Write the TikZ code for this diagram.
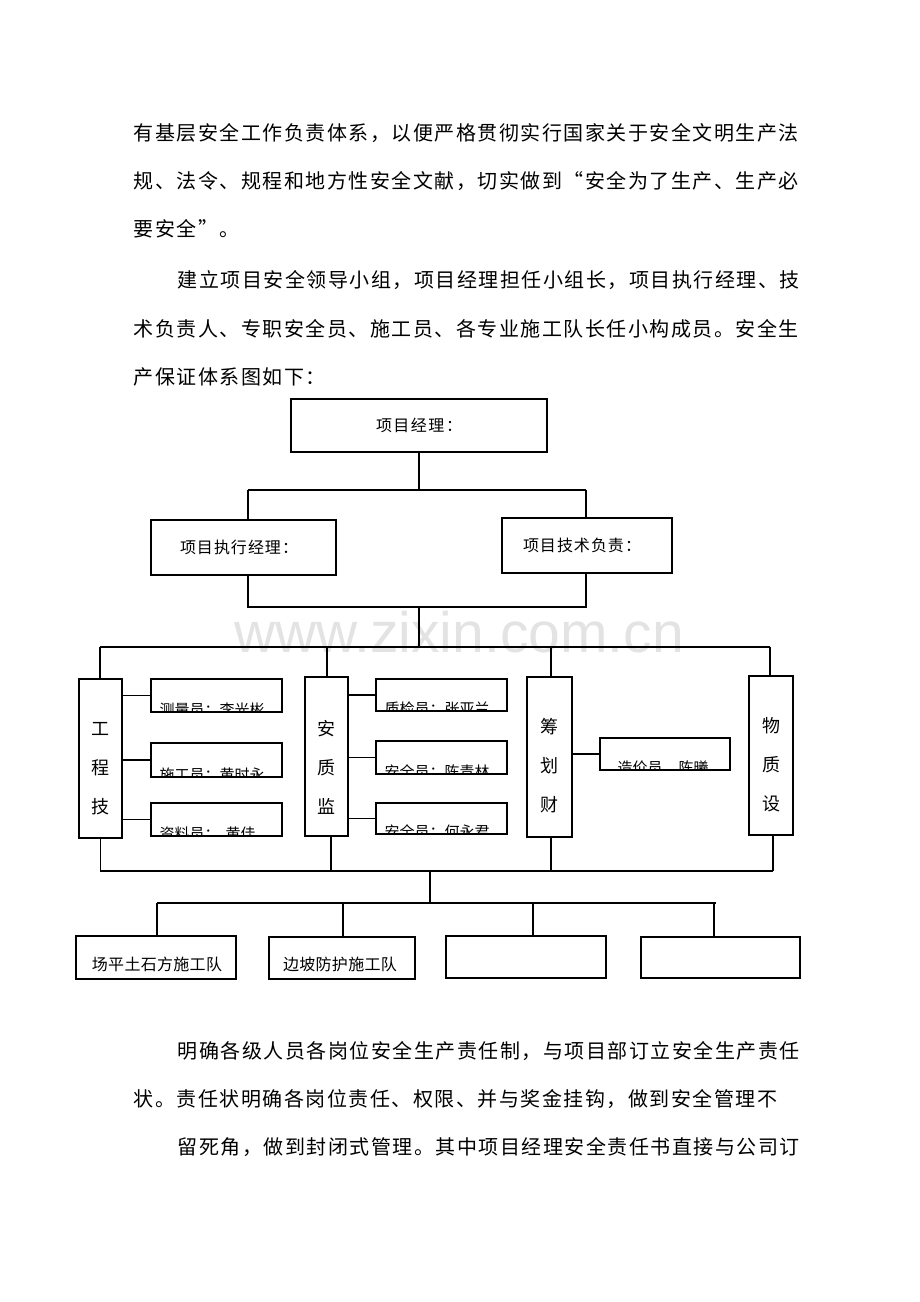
\documentclass[tikz,border=0pt]{standalone}
\usepackage{fontspec}
\setmainfont{Noto Sans CJK SC}
\newfontfamily\wmfont{Liberation Sans}
\ExplSyntaxOn
\NewDocumentCommand\cjkgrid{mm}{\tl_map_inline:nn{#2}{\makebox[#1]{##1}}}
\ExplSyntaxOff
\tikzset{
  body/.style={anchor=west, inner sep=0pt, font=\fontsize{20}{20}\selectfont},
  box/.style={draw, line width=1.2pt, inner sep=0pt},
  lab/.style={inner sep=0pt, font=\fontsize{16}{16}\selectfont},
  small/.style={anchor=west, inner sep=0pt, font=\fontsize{15}{15}\selectfont},
  vt/.style={inner sep=0pt, align=center, font=\fontsize{18}{39}\selectfont},
  conn/.style={line width=1.25pt},
}
\begin{document}
\begin{tikzpicture}[x=1pt,y=-1pt]
\useasboundingbox (0,0) rectangle (920,1302);
% watermark
\node[inner sep=0pt, text=black!11, font=\wmfont\fontsize{57}{57}\selectfont] (wm) at (459,632) {www.zixin.com.cn};
% body text
\node[body] (t1) at (133,133) {\cjkgrid{21.5pt}{有基层安全工作负责体系，以便严格贯彻实行国家关于安全文明生产法}};
\node[body] (t2) at (133,181) {\cjkgrid{21.5pt}{规、法令、规程和地方性安全文献，切实做到“安全为了生产、生产必}};
\node[body] (t3) at (133,229) {\cjkgrid{21.5pt}{要安全”。}};
\node[body] (t4) at (177,280) {\cjkgrid{21.5pt}{建立项目安全领导小组，项目经理担任小组长，项目执行经理、技}};
\node[body] (t5) at (133,329) {\cjkgrid{21.5pt}{术负责人、专职安全员、施工员、各专业施工队长任小构成员。安全生}};
\node[body] (t6) at (133,377) {\cjkgrid{21.5pt}{产保证体系图如下：}};
\node[body] (t7) at (177,1051) {\cjkgrid{21.5pt}{明确各级人员各岗位安全生产责任制，与项目部订立安全生产责任}};
\node[body] (t8) at (133,1099) {\cjkgrid{21.5pt}{状。责任状明确各岗位责任、权限、并与奖金挂钩，做到安全管理不}};
\node[body] (t9) at (177,1147) {\cjkgrid{21.5pt}{留死角，做到封闭式管理。其中项目经理安全责任书直接与公司订}};

% top levels
\node[box, minimum width=256pt, minimum height=53pt] (pm) at (419,425.5) {};
\node[lab] (pmt) at (419,425) {\cjkgrid{17.5pt}{项目经理：}};
\node[box, minimum width=185pt, minimum height=55pt] (ex) at (243.5,547.5) {};
\node[lab] (ext) at (239,547) {\cjkgrid{17pt}{项目执行经理：}};
\node[box, minimum width=170pt, minimum height=55pt] (te) at (587,545.5) {};
\node[lab] (tet) at (582,545) {\cjkgrid{17pt}{项目技术负责：}};

\coordinate (jT) at (419,490);
\coordinate (jL) at (248,490);
\coordinate (jR) at (586,490);
\draw[conn] (pm.south) -- (jT);
\draw[conn] (jL) -- (jR);
\draw[conn] (jL) -- (jL |- ex.north);
\draw[conn] (jR) -- (jR |- te.north);
\coordinate (kL) at (248,607);
\coordinate (kR) at (586,607);
\coordinate (kM) at (419,607);
\coordinate (mM) at (419,647);
\draw[conn] (jL |- ex.south) -- (kL) -- (kR) -- (jR |- te.south);
\draw[conn] (kM) -- (mM);

% department boxes
\node[box, minimum width=43pt, minimum height=159pt] (gc) at (100.5,758.5) {};
\node[vt] (gct) at (100.5,769) {工\\程\\技};
\node[box, minimum width=43pt, minimum height=159pt] (aq) at (326.5,756.5) {};
\node[vt] (aqt) at (326.5,767) {安\\质\\监};
\node[box, minimum width=45pt, minimum height=160pt] (cc) at (549.5,757) {};
\node[vt] (cct) at (549.5,766) {筹\\划\\财};
\node[box, minimum width=44pt, minimum height=159pt] (wz) at (771,755.5) {};
\node[vt] (wzt) at (771,765) {物\\质\\设};

\coordinate (mL) at (100,647);
\coordinate (mR) at (770,647);
\draw[conn] (mL) -- (mR);
\draw[conn] (mL) -- (mL |- gc.north);
\draw[conn] (327,647) -- (327,647 |- aq.north);
\draw[conn] (551,647) -- (551,647 |- cc.north);
\draw[conn] (mR) -- (mR |- wz.north);

% sub boxes
\node[box, minimum width=131pt, minimum height=33pt] (s1) at (216.5,695.5) {};
\node[box, minimum width=131pt, minimum height=34pt] (s2) at (216.5,760) {};
\node[box, minimum width=131pt, minimum height=33pt] (s3) at (216.5,819.5) {};
\node[box, minimum width=131pt, minimum height=32pt] (q1) at (441.5,695) {};
\node[box, minimum width=131pt, minimum height=33pt] (q2) at (441.5,757.5) {};
\node[box, minimum width=131pt, minimum height=31pt] (q3) at (441.5,818.5) {};
\node[box, minimum width=130pt, minimum height=32pt] (c1) at (665,754) {};

\begin{scope}
\clip (s1.south west) rectangle (s1.north east);
\node[small, xshift=9pt, yshift=2.5pt] (s1t) at (s1.south west) {测量员：李光彬};
\end{scope}
\begin{scope}
\clip (s2.south west) rectangle (s2.north east);
\node[small, xshift=9pt, yshift=2.5pt] (s2t) at (s2.south west) {施工员：黄时永};
\end{scope}
\begin{scope}
\clip (s3.south west) rectangle (s3.north east);
\node[small, xshift=9pt, yshift=2.5pt] (s3t) at (s3.south west) {资料员：\hspace{6pt}黄佳};
\end{scope}
\begin{scope}
\clip (q1.south west) rectangle (q1.north east);
\node[small, xshift=9pt, yshift=2.5pt] (q1t) at (q1.south west) {质检员：张亚兰};
\end{scope}
\begin{scope}
\clip (q2.south west) rectangle (q2.north east);
\node[small, xshift=9pt, yshift=2.5pt] (q2t) at (q2.south west) {安全员：陈青林};
\end{scope}
\begin{scope}
\clip (q3.south west) rectangle (q3.north east);
\node[small, xshift=9pt, yshift=2.5pt] (q3t) at (q3.south west) {安全员：何永君};
\end{scope}
\begin{scope}
\clip (c1.south west) rectangle (c1.north east);
\node[small, xshift=18pt, yshift=2.5pt] (c1t) at (c1.south west) {造价员\hspace{16pt}陈曦};
\end{scope}

\draw[conn] (s1.west) -- (s1.west -| gc.east);
\draw[conn] (s2.west) -- (s2.west -| gc.east);
\draw[conn] (s3.west) -- (s3.west -| gc.east);
\draw[conn] (q1.west) -- (q1.west -| aq.east);
\draw[conn] (q2.west) -- (q2.west -| aq.east);
\draw[conn] (q3.west) -- (q3.west -| aq.east);
\draw[conn] (c1.west) -- (c1.west -| cc.east);

% bottom connectors
\coordinate (nL) at (100,871);
\coordinate (nR) at (773,871);
\coordinate (nM) at (430,871);
\coordinate (pM) at (430,903);
\draw[conn] (nL) -- (nR);
\draw[conn] (gc.south) -- (gc.south |- nL);
\draw[conn] (aq.south -| 331,0) -- (331,871);
\draw[conn] (cc.south -| 551,0) -- (551,871);
\draw[conn] (wz.south -| 773,0) -- (nR);
\draw[conn] (nM) -- (pM);

% teams
\node[box, minimum width=160pt, minimum height=43pt] (b1) at (156,957.5) {};
\node[lab] (b1t) at (157,964) {\cjkgrid{16.3pt}{场平土石方施工队}};
\node[box, minimum width=146pt, minimum height=42pt] (b2) at (342,958) {};
\node[lab] (b2t) at (340,964) {\cjkgrid{16.3pt}{边坡防护施工队}};
\node[box, minimum width=160pt, minimum height=42pt] (b3) at (526,957) {};
\node[box, minimum width=159pt, minimum height=41pt] (b4) at (720.5,957.5) {};

\coordinate (pL) at (157,903);
\coordinate (pR) at (716,903);
\coordinate (d2) at (343,903);
\coordinate (d3) at (533,903);
\coordinate (d4) at (714,903);
\draw[conn] (pL) -- (pR);
\draw[conn] (pL) -- (pL |- b1.north);
\draw[conn] (d2) -- (d2 |- b2.north);
\draw[conn] (d3) -- (d3 |- b3.north);
\draw[conn] (d4) -- (d4 |- b4.north);
\end{tikzpicture}
\end{document}
